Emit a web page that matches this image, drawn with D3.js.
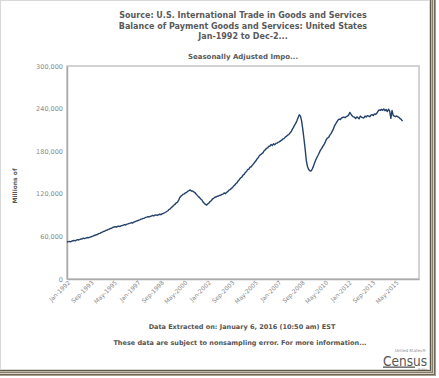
<!DOCTYPE html>
<html>
<head>
<meta charset="utf-8">
<script src="https://cdn.jsdelivr.net/npm/d3@7"></script>
<style>
  body { margin: 0; background: #fff; }
  svg { display: block; font-family: Verdana, 'DejaVu Sans', sans-serif; }
</style>
</head>
<body>
<div id="chart"></div>
<script>
// Monthly imports, millions of dollars, Jan-1992 .. Nov-2015
let y1992 = [52000, 52600, 52900, 52400, 53300, 53900, 54300, 53800, 54800, 55400, 55000, 55800]
let y1993 = [56300, 56500, 57500, 56900, 57600, 58400, 57900, 58700, 59100, 59800, 60300, 61200]
let y1994 = [61600, 62400, 62700, 63900, 64300, 65400, 65900, 66900, 67200, 68400, 68700, 69700]
let y1995 = [70200, 71200, 71500, 72700, 73200, 73800, 73000, 74000, 74500, 73900, 74900, 75300]
let y1996 = [75800, 76600, 76000, 77200, 77600, 78400, 78700, 79500, 78900, 80300, 80700, 81500]
let y1997 = [82000, 82800, 83300, 84200, 84600, 85300, 85800, 86700, 87200, 88000, 87300, 88300]
let y1998 = [88600, 89500, 88800, 89900, 90200, 89500, 90700, 91200, 90600, 91800, 92300, 93100]
let y1999 = [94000, 95100, 96100, 98100, 98800, 100900, 102000, 103900, 105000, 107100, 107900, 110300]
let y2000 = [114500, 116600, 117800, 119500, 119900, 121300, 122000, 123700, 124400, 125500, 123900, 124000]
let y2001 = [122700, 121800, 119600, 117800, 116000, 114600, 112600, 111300, 108400, 106800, 105000, 104100]
let y2002 = [105900, 107000, 109200, 110300, 112700, 113600, 115200, 115400, 116600, 116800, 117700, 118000]
let y2003 = [119200, 119600, 121300, 120100, 122000, 123000, 125100, 125800, 127600, 128700, 130900, 132200]
let y2004 = [134500, 135800, 138400, 140200, 142600, 143500, 146200, 147300, 150100, 151400, 154200, 154900]
let y2005 = [157500, 158100, 160400, 162200, 164500, 166500, 169200, 170800, 173900, 175100, 176500, 177700]
let y2006 = [180600, 181900, 184100, 184700, 187000, 187200, 189500, 188100, 190400, 189000, 191100, 191400]
let y2007 = [192700, 193100, 194500, 195500, 197300, 197800, 199900, 200900, 202600, 203400, 205500, 207300]
let y2008 = [210700, 213500, 216800, 219400, 223100, 227300, 231200, 229400, 222100, 210300, 196800, 182500]
let y2009 = [166300, 158100, 154200, 152500, 152100, 154800, 158600, 163400, 167700, 171200, 174300, 177900]
let y2010 = [181500, 183600, 186800, 189100, 192400, 196400, 198600, 199500, 202700, 204800, 207900, 211000]
let y2011 = [215800, 218400, 221200, 223800, 225300, 224600, 226900, 227500, 228100, 227200, 228600, 229300]
let y2012 = [230800, 234600, 232100, 229800, 228400, 227900, 226100, 228300, 227200, 225800, 229400, 228100]
let y2013 = [227300, 226800, 229500, 228200, 230100, 229400, 228600, 230700, 231500, 230200, 232600, 231800]
let y2014 = [233400, 236100, 238200, 237500, 238900, 237800, 239400, 237100, 238600, 235900, 239100, 236400]
let y2015 = [226200, 237300, 230500, 229400, 228800, 229600, 228200, 227500, 225800, 224600, 222300]

let xTickLabels = ['Jan-1992', 'Sep-1993', 'May-1995', 'Jan-1997', 'Sep-1998', 'May-2000',
  'Jan-2002', 'Sep-2003', 'May-2005', 'Jan-2007', 'Sep-2008', 'May-2010',
  'Jan-2012', 'Sep-2013', 'May-2015']
let yTicks = [0, 60000, 120000, 180000, 240000, 300000]

let titleLines = ['Source: U.S. International Trade in Goods and Services',
  'Balance of Payment Goods and Services: United States',
  'Jan-1992 to Dec-2...']

let values = [].concat(y1992, y1993, y1994, y1995, y1996, y1997, y1998, y1999, y2000,
  y2001, y2002, y2003, y2004, y2005, y2006, y2007, y2008, y2009, y2010, y2011,
  y2012, y2013, y2014, y2015)
let datapoints = values.map((v, i) => ({ month: i, value: v }))

let W = 439
let H = 378
let plot = { left: 67, top: 66, right: 419, bottom: 279 }

let svg = d3.select('#chart').append('svg').attr('width', W).attr('height', H)

// page + frame
svg.append('rect').attr('width', W).attr('height', H).attr('fill', '#fff')
svg.append('rect').attr('x', 0.5).attr('y', 0.5).attr('width', 429).attr('height', 369)
  .attr('fill', 'none').attr('stroke', '#d8d8d8')
let frameColors = ['#5e574b', '#bdb5a2', '#857c6c', '#d9d2c2', '#6e6758', '#a79f8c', '#ffffff']
frameColors.forEach((c, i) => {
  svg.append('rect').attr('x', 430 + i).attr('y', 0).attr('width', 1).attr('height', 371 + i).attr('fill', c)
  svg.append('rect').attr('x', 0).attr('y', 370 + i).attr('width', 431 + i).attr('height', 1).attr('fill', c)
})

let x = d3.scaleLinear().domain([0, 300]).range([plot.left, plot.right])
let y = d3.scaleLinear().domain([0, 300000]).range([plot.bottom, plot.top])

// plot frame
svg.append('rect')
  .attr('x', plot.left).attr('y', plot.top)
  .attr('width', plot.right - plot.left).attr('height', plot.bottom - plot.top)
  .attr('fill', 'none').attr('stroke', '#c4c4c4').attr('stroke-width', 1.5)

// titles
svg.append('text')
  .attr('x', 243).attr('y', 18)
  .attr('text-anchor', 'middle')
  .attr('font-size', 8).attr('font-weight', 'bold').attr('fill', '#5a5a5a')
  .selectAll('tspan')
  .data(titleLines)
  .enter().append('tspan')
  .attr('x', 243).attr('dy', (d, i) => i === 0 ? 0 : 10.5)
  .text(d => d)

svg.append('text')
  .attr('x', 243).attr('y', 59)
  .attr('text-anchor', 'middle')
  .attr('font-size', 7).attr('font-weight', 'bold').attr('fill', '#5a5a5a')
  .text('Seasonally Adjusted Impo...')

// y axis
let yAxis = svg.append('g')
  .attr('transform', `translate(${plot.left},0)`)
  .call(d3.axisLeft(y).tickValues(yTicks).tickSize(0).tickPadding(4).tickFormat(d3.format(',')))
yAxis.select('.domain').attr('stroke', '#aaa').attr('stroke-width', 1.5)
yAxis.selectAll('text').attr('font-size', 6.5).attr('fill', '#888')
  .attr('font-family', "Verdana, 'DejaVu Sans', sans-serif")

svg.append('text')
  .attr('transform', 'translate(17,186) rotate(-90)')
  .attr('text-anchor', 'middle')
  .attr('font-size', 6).attr('font-weight', 'bold').attr('fill', '#555')
  .text('Millions of')

// x axis
let xAxis = svg.append('g')
  .attr('transform', `translate(0,${plot.bottom})`)
  .call(d3.axisBottom(x).tickValues(xTickLabels.map((d, i) => i * 20)).tickSize(0)
    .tickFormat((d, i) => xTickLabels[i]))
xAxis.select('.domain').attr('stroke', '#aaa').attr('stroke-width', 1.5)
xAxis.selectAll('text')
  .attr('font-size', 6).attr('fill', '#888')
  .attr('font-family', "Verdana, 'DejaVu Sans', sans-serif")
  .attr('text-anchor', 'end')
  .attr('dy', 0)
  .attr('transform', 'translate(1,2) rotate(-45)')

// line
let line = d3.line()
  .x(d => x(d.month))
  .y(d => y(d.value))

svg.append('path')
  .datum(datapoints)
  .attr('d', line)
  .attr('fill', 'none')
  .attr('stroke', '#23416b')
  .attr('stroke-width', 1.4)
  .attr('stroke-linejoin', 'round')

// footer
svg.append('text')
  .attr('x', 242).attr('y', 329)
  .attr('text-anchor', 'middle')
  .attr('font-size', 6.5).attr('font-weight', 'bold').attr('fill', '#555')
  .text('Data Extracted on: January 6, 2016 (10:50 am) EST')
svg.append('text')
  .attr('x', 240).attr('y', 345)
  .attr('text-anchor', 'middle')
  .attr('font-size', 6.5).attr('font-weight', 'bold').attr('fill', '#555')
  .text('These data are subject to nonsampling error. For more information...')

// census logo
let logo = svg.append('g')
logo.append('text').attr('x', 426).attr('y', 352).attr('text-anchor', 'end')
  .attr('font-size', 4).attr('fill', '#888').text('United States\u00ae')
logo.append('text').attr('x', 383).attr('y', 365.5)
  .attr('font-size', 14).attr('font-family', "'DejaVu Sans Condensed', sans-serif")
  .attr('textLength', 44).attr('lengthAdjust', 'spacingAndGlyphs')
  .attr('fill', '#555').text('Census')
logo.append('rect').attr('x', 383).attr('y', 366.5).attr('width', 32).attr('height', 1.3).attr('fill', '#555')
logo.append('text').attr('x', 427).attr('y', 369.5).attr('text-anchor', 'end')
  .attr('font-size', 2.5).attr('fill', '#888').text('Bureau')
</script>
</body>
</html>
